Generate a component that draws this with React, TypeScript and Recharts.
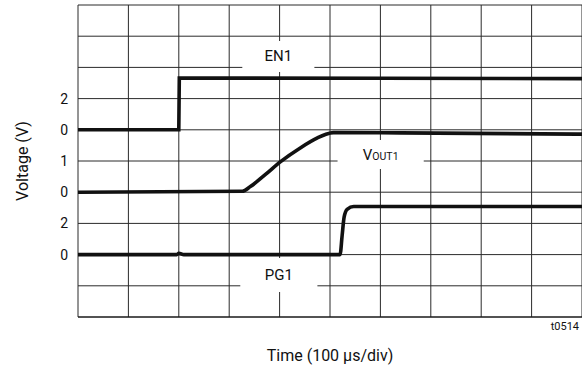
import { LineChart, Line, XAxis, YAxis, CartesianGrid, ReferenceArea } from "recharts";

const FONT = "Roboto, 'Liberation Sans', sans-serif";

// grid divisions (10 x 10)
const GRID_TICKS = [0, 1, 2, 3, 4, 5, 6, 7, 8, 9, 10];

// per-channel voltage labels on the left
const Y_LABELS: Record<number, string> = { 7: "2", 6: "0", 5: "1", 4: "0", 3: "2", 2: "0" };

// traces, t in divisions, v in grid units
const EN1 = [
    { t: 0, v: 6.0 },
    { t: 2.0, v: 6.0 },
    { t: 2.01, v: 7.66 },
    { t: 6, v: 7.65 },
    { t: 10, v: 7.64 },
];

const VOUT1 = [
    { t: 0, v: 4.0 },
    { t: 3.26, v: 4.03 },
    { t: 3.42, v: 4.18 },
    { t: 3.72, v: 4.57 },
    { t: 4.02, v: 4.98 },
    { t: 4.41, v: 5.42 },
    { t: 4.75, v: 5.74 },
    { t: 4.92, v: 5.86 },
    { t: 5.07, v: 5.91 },
    { t: 6.4, v: 5.9 },
    { t: 10, v: 5.86 },
];

const PG1 = [
    { t: 0, v: 2.0 },
    { t: 1.96, v: 2.0 },
    { t: 2.0, v: 2.04 },
    { t: 2.1, v: 2.0 },
    { t: 5.2, v: 2.0 },
    { t: 5.24, v: 2.6 },
    { t: 5.28, v: 3.2 },
    { t: 5.34, v: 3.45 },
    { t: 5.47, v: 3.54 },
    { t: 10, v: 3.54 },
];

const YTick = (props: any) => {
    const { x, y, payload } = props;
    const label = Y_LABELS[payload.value];
    if (!label) return <g />;
    return (
        <text x={x - 2} y={y} dy={5} textAnchor="end" fontSize={14} fontFamily={FONT} fill="#111">
            {label}
        </text>
    );
};

const NoTick = () => <g />;

const boxLabel = (text: string, sub?: string) => (props: any) => {
    const { viewBox } = props;
    const cx = viewBox.x + viewBox.width / 2;
    const cy = viewBox.y + viewBox.height / 2;
    return (
        <text x={cx} y={cy} dy={5} textAnchor="middle" fontSize={15} fontFamily={FONT} fill="#111">
            {text}
            {sub && <tspan fontSize={10.5}>{sub}</tspan>}
        </text>
    );
};

export default function App() {
    return (
        <div style={{ position: "absolute", left: 0, top: 0, width: 582, height: 370, background: "#fff" }}>
            <LineChart width={582} height={370} margin={{ top: 5, right: 0, left: 0, bottom: 0 }}>
                <CartesianGrid stroke="#2a2a2a" strokeWidth={1} />
                <XAxis
                    type="number"
                    dataKey="t"
                    domain={[0, 10]}
                    ticks={GRID_TICKS}
                    tick={<NoTick />}
                    tickLine={false}
                    axisLine={{ stroke: "#111" }}
                    height={53}
                    label={{
                        value: "Time (100 \u00b5s/div)",
                        position: "insideBottom",
                        offset: 9,
                        style: { fontSize: 16, fontFamily: FONT, fill: "#111" },
                    }}
                />
                <YAxis
                    type="number"
                    domain={[0, 10]}
                    ticks={GRID_TICKS}
                    tick={<YTick />}
                    tickLine={false}
                    axisLine={false}
                    width={78}
                    label={{
                        value: "Voltage (V)",
                        angle: -90,
                        position: "insideLeft",
                        offset: 22,
                        style: { fontSize: 16, fontFamily: FONT, fill: "#111", textAnchor: "middle" },
                    }}
                />
                <ReferenceArea x1={3.26} x2={4.69} y1={7.85} y2={8.85} fill="#fff" fillOpacity={1} stroke="none" label={boxLabel("EN1")} />
                <ReferenceArea x1={5.15} x2={6.86} y1={4.74} y2={5.67} fill="#fff" fillOpacity={1} stroke="none" label={boxLabel("V", "OUT1")} />
                <ReferenceArea x1={3.22} x2={4.75} y1={0.8} y2={1.89} fill="#fff" fillOpacity={1} stroke="none" label={boxLabel("PG1")} />
                <Line data={EN1} dataKey="v" type="linear" stroke="#111" strokeWidth={3.6} dot={false} isAnimationActive={false} />
                <Line data={VOUT1} dataKey="v" type="monotone" stroke="#111" strokeWidth={3.6} dot={false} isAnimationActive={false} />
                <Line data={PG1} dataKey="v" type="monotone" stroke="#111" strokeWidth={3.6} dot={false} isAnimationActive={false} />
            </LineChart>
            <div
                style={{
                    position: "absolute",
                    right: 3,
                    top: 320,
                    fontSize: 11,
                    fontFamily: FONT,
                    color: "#111",
                }}
            >
                t0514
            </div>
        </div>
    );
}
